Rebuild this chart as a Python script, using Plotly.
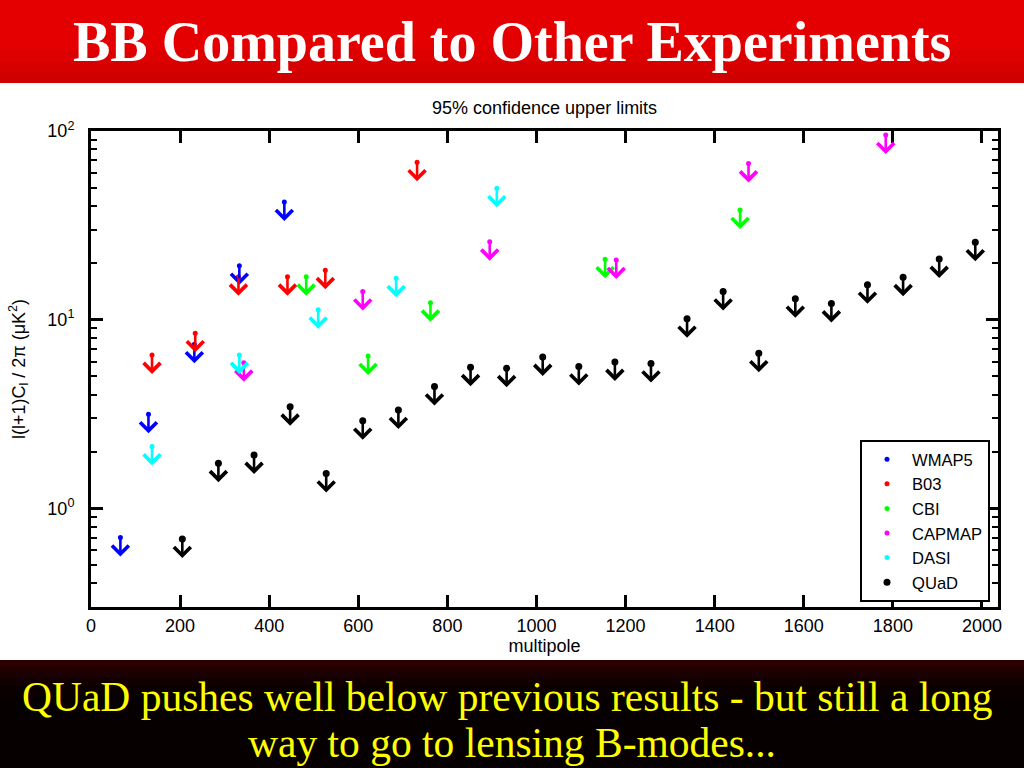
import math
import plotly.graph_objects as go

# ---------------- data ----------------
experiments = ["WMAP5", "B03", "CBI", "CAPMAP", "DASI", "QUaD"]
colors = ["#0000ff", "#ff0000", "#00ff00", "#ff00ff", "#00ffff", "#000000"]

wmap5_l = [66, 129, 232, 333, 434]
wmap5_v = [0.70, 3.15, 7.4, 19.3, 42.0]
b03_l = [137, 234, 331, 441, 526, 732]
b03_v = [6.5, 8.47, 16.9, 16.9, 18.3, 68.2]
cbi_l = [483, 622, 762, 1154, 1457]
cbi_v = [16.9, 6.42, 12.3, 20.9, 38.1]
capmap_l = [343, 610, 895, 1179, 1476, 1784]
capmap_v = [5.92, 14.1, 25.9, 20.7, 67.3, 95.1]
dasi_l = [137, 333, 510, 685, 911]
dasi_v = [2.13, 6.5, 11.3, 16.6, 49.7]
quad_l = [205, 286, 366, 447, 528, 610, 690, 771, 852, 933, 1014, 1095,
          1176, 1257, 1338, 1419, 1499, 1581, 1662, 1743, 1823, 1904, 1985]
quad_v = [0.687, 1.735, 1.92, 3.46, 1.53, 2.91, 3.32, 4.42, 5.6, 5.53, 6.35,
          5.64, 5.97, 5.85, 10.1, 14.1, 6.64, 12.9, 12.2, 15.3, 16.8, 21.0, 25.7]

series_l = [wmap5_l, b03_l, cbi_l, capmap_l, dasi_l, quad_l]
series_v = [wmap5_v, b03_v, cbi_v, capmap_v, dasi_v, quad_v]

x_ticks = [0, 200, 400, 600, 800, 1000, 1200, 1400, 1600, 1800, 2000]
y_tickvals = [1, 10, 100]
y_ticktext = ["10<sup>0</sup>", "10<sup>1</sup>", "10<sup>2</sup>"]

title_text = "BB Compared to Other Experiments"
caption_line1 = "QUaD pushes well below previous results - but still a long"
caption_line2 = "way to go to lensing B-modes..."
plot_title = "95% confidence upper limits"

# ---------------- layout geometry ----------------
W, H = 1024, 768
ML, MR, MT, MB = 91, 26, 131, 161
PW, PH = W - ML - MR, H - MT - MB


def px_to_paper_x(px):
    return (px - ML) / PW


def py_to_paper_y(py):
    return (H - MB - py) / PH


SANS = "Liberation Sans"
SERIF = "Liberation Serif"
ARROW_LEN = 19

fig = go.Figure()

for name, col, ls, vs in zip(experiments, colors, series_l, series_v):
    size = 7 if name == "QUaD" else 5
    fig.add_trace(go.Scatter(
        x=ls, y=vs, mode="markers", name=name,
        marker=dict(color=col, size=size, line=dict(width=0)),
    ))

annotations = []
for name, col, ls, vs in zip(experiments, colors, series_l, series_v):
    for l, v in zip(ls, vs):
        annotations.append(dict(
            x=l, y=math.log10(v), xref="x", yref="y", text="",
            showarrow=True, arrowhead=4, arrowsize=1.25, arrowwidth=2.6,
            arrowcolor=col, ax=0, ay=-ARROW_LEN, axref="pixel", ayref="pixel",
            yshift=-ARROW_LEN, font=dict(size=1),
        ))

# banner texts
annotations.append(dict(
    x=px_to_paper_x(512), y=py_to_paper_y(42), xref="paper", yref="paper",
    text=title_text, showarrow=False, xanchor="center", yanchor="middle",
    font=dict(family=SERIF, size=56, color="white", weight="bold"),
))
annotations.append(dict(
    x=px_to_paper_x(507), y=py_to_paper_y(697), xref="paper", yref="paper",
    text=caption_line1, showarrow=False, xanchor="center", yanchor="middle",
    font=dict(family=SERIF, size=41.5, color="#ffff00"),
))
annotations.append(dict(
    x=px_to_paper_x(512), y=py_to_paper_y(743), xref="paper", yref="paper",
    text=caption_line2, showarrow=False, xanchor="center", yanchor="middle",
    font=dict(family=SERIF, size=41.5, color="#ffff00"),
))
annotations.append(dict(
    x=0.5, y=py_to_paper_y(108), xref="paper", yref="paper",
    text=plot_title, showarrow=False, xanchor="center", yanchor="middle",
    font=dict(family=SANS, size=18, color="black"),
))

# banner backgrounds
shapes = []
x0p, x1p = px_to_paper_x(0), px_to_paper_x(W)
top_bands = [(0, 50, "#e40000"), (50, 62, "#dc0000"), (62, 72, "#d60000"), (72, 83, "#d00000")]
for a, b, c in top_bands:
    shapes.append(dict(type="rect", xref="paper", yref="paper", x0=x0p, x1=x1p,
                       y0=py_to_paper_y(b), y1=py_to_paper_y(a), fillcolor=c,
                       line=dict(width=0), layer="below"))
bot_bands = [(660, 666, "#2c0000"), (666, 672, "#230000"), (672, 678, "#1a0000"),
             (678, 686, "#120000"), (686, 696, "#0b0000"), (696, 768, "#060000")]
for a, b, c in bot_bands:
    shapes.append(dict(type="rect", xref="paper", yref="paper", x0=x0p, x1=x1p,
                       y0=py_to_paper_y(b), y1=py_to_paper_y(a), fillcolor=c,
                       line=dict(width=0), layer="below"))

axis_common = dict(
    showline=True, linecolor="black", linewidth=3, mirror="ticks",
    ticks="inside", tickcolor="black", tickwidth=3, ticklen=12,
    showgrid=False, zeroline=False,
    tickfont=dict(family=SANS, size=18, color="black"),
)

fig.update_layout(
    width=W, height=H,
    margin=dict(l=ML, r=MR, t=MT, b=MB),
    paper_bgcolor="white", plot_bgcolor="white",
    showlegend=True,
    legend=dict(
        x=px_to_paper_x(990), y=py_to_paper_y(602), xanchor="right", yanchor="bottom",
        bordercolor="black", borderwidth=2, bgcolor="white",
        font=dict(family=SANS, size=16.6, color="black"),
        tracegroupgap=0, itemwidth=40,
        entrywidth=88, entrywidthmode="pixels",
    ),
    xaxis=dict(
        range=[0, 2036], tickvals=x_ticks,
        title=dict(text="multipole", font=dict(family=SANS, size=18, color="black"), standoff=2),
        **axis_common,
    ),
    yaxis=dict(
        type="log", range=[math.log10(0.3), 2],
        tickvals=y_tickvals, ticktext=y_ticktext, ticklabelstandoff=10,
        minor=dict(ticks="inside", ticklen=6, tickwidth=2, tickcolor="black", dtick="D1"),
        title=dict(text="l(l+1)C<sub>l</sub> / 2\u03c0 (\u03bcK<sup>2</sup>)",
                   font=dict(family=SANS, size=18, color="black"), standoff=18),
        **axis_common,
    ),
    annotations=annotations,
    shapes=shapes,
)

fig.write_html(
    "out.html",
    config={"displayModeBar": False},
    post_script="document.body.style.margin='0px';document.body.style.overflow='hidden';",
)
